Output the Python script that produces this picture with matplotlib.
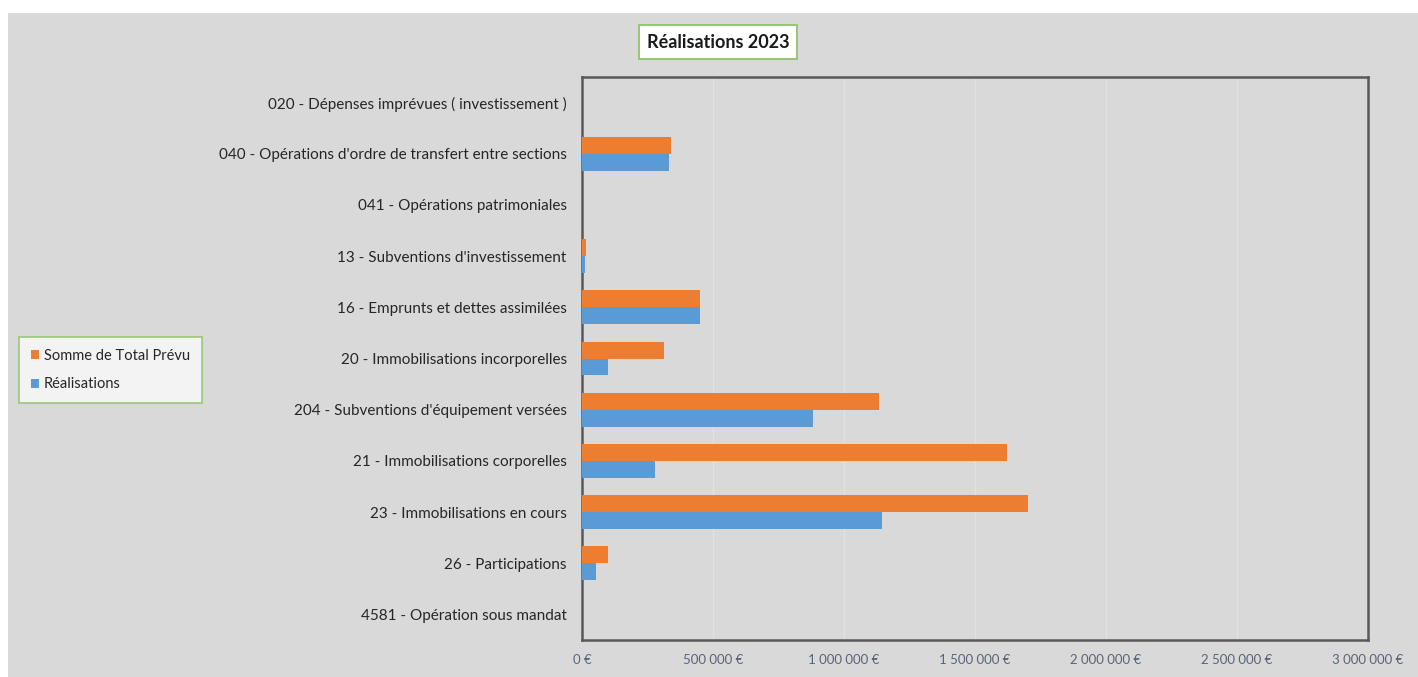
import matplotlib
matplotlib.use("Agg")
import matplotlib.pyplot as plt
from matplotlib.patches import Rectangle

categories = [
    "020 - Dépenses imprévues ( investissement )",
    "040 - Opérations d'ordre de transfert entre sections",
    "041 - Opérations patrimoniales",
    "13 - Subventions d'investissement",
    "16 - Emprunts et dettes assimilées",
    "20 - Immobilisations incorporelles",
    "204 - Subventions d'équipement versées",
    "21 - Immobilisations corporelles",
    "23 - Immobilisations en cours",
    "26 - Participations",
    "4581 - Opération sous mandat",
]
prevu = [0, 340000, 0, 15000, 450000, 313000, 1134000, 1622000, 1702000, 99000, 0]
realisations = [0, 332000, 0, 13000, 450000, 99000, 882000, 279000, 1145000, 53000, 0]
xticks = [0, 500000, 1000000, 1500000, 2000000, 2500000, 3000000]
xtick_labels = ["0 €", "500 000 €", "1 000 000 €", "1 500 000 €", "2 000 000 €", "2 500 000 €", "3 000 000 €"]

plt.rcParams['font.family'] = ['Lato', 'DejaVu Sans']

W, H = 1418, 677
fig = plt.figure(figsize=(W / 100, H / 100), dpi=100, facecolor="white")
bg = "#d9d9d9"
fig.patches.append(Rectangle((8 / W, 0), 1 - 8 / W, (H - 13) / H, transform=fig.transFigure,
                             facecolor=bg, edgecolor="none", zorder=-10))

left, right, top, bottom = 582, 1368, 77, 640
ax = fig.add_axes([left / W, 1 - bottom / H, (right - left) / W, (bottom - top) / H])
ax.set_zorder(2)
ax.set_facecolor(bg)

orange = "#ED7D31"
blue = "#5B9BD5"
h = 0.33
ypos = list(range(len(categories)))
ax.barh([y - h / 2 for y in ypos], prevu, height=h, color=orange, label="Somme de Total Prévu", zorder=3)
ax.barh([y + h / 2 for y in ypos], realisations, height=h, color=blue, label="Réalisations", zorder=3)

ax.set_ylim(len(categories) - 0.5, -0.5)
ax.set_xlim(0, 3000000)
ax.set_yticks(ypos)
ax.set_yticklabels(categories, fontsize=11, color="#262626")
ax.set_xticks(xticks)
ax.set_xticklabels(xtick_labels, fontsize=9.5, color="#59647a")
ax.tick_params(axis="y", length=0, pad=11)
ax.tick_params(axis="x", length=0, pad=10)
ax.grid(axis="x", color="#e2e2e2", linewidth=1.0, zorder=1)
for s in ax.spines.values():
    s.set_color("#595959")
    s.set_linewidth(1.8)

# Title
fig.text(718 / W, 1 - 42 / H, "Réalisations 2023", ha="center", va="center", fontsize=13,
         fontweight="bold", color="#1a1a1a", zorder=5,
         bbox=dict(boxstyle="square,pad=0.45", facecolor="white", edgecolor="#8fc46a", linewidth=1.3))

# Legend
leg = fig.legend(loc="center left", bbox_to_anchor=(19 / W, 1 - 370 / H), fontsize=10.5,
                 frameon=True, fancybox=False, handlelength=0.6, handleheight=0.6,
                 handletextpad=0.3, borderpad=0.8, labelspacing=1.0, borderaxespad=0)
leg.get_frame().set_facecolor("#fafafa")
leg.get_frame().set_edgecolor("#8fc46a")
leg.get_frame().set_linewidth(1.3)
leg.set_zorder(5)
for t in leg.get_texts():
    t.set_color("#262626")

fig.savefig("out.png", dpi=100, facecolor="white")
